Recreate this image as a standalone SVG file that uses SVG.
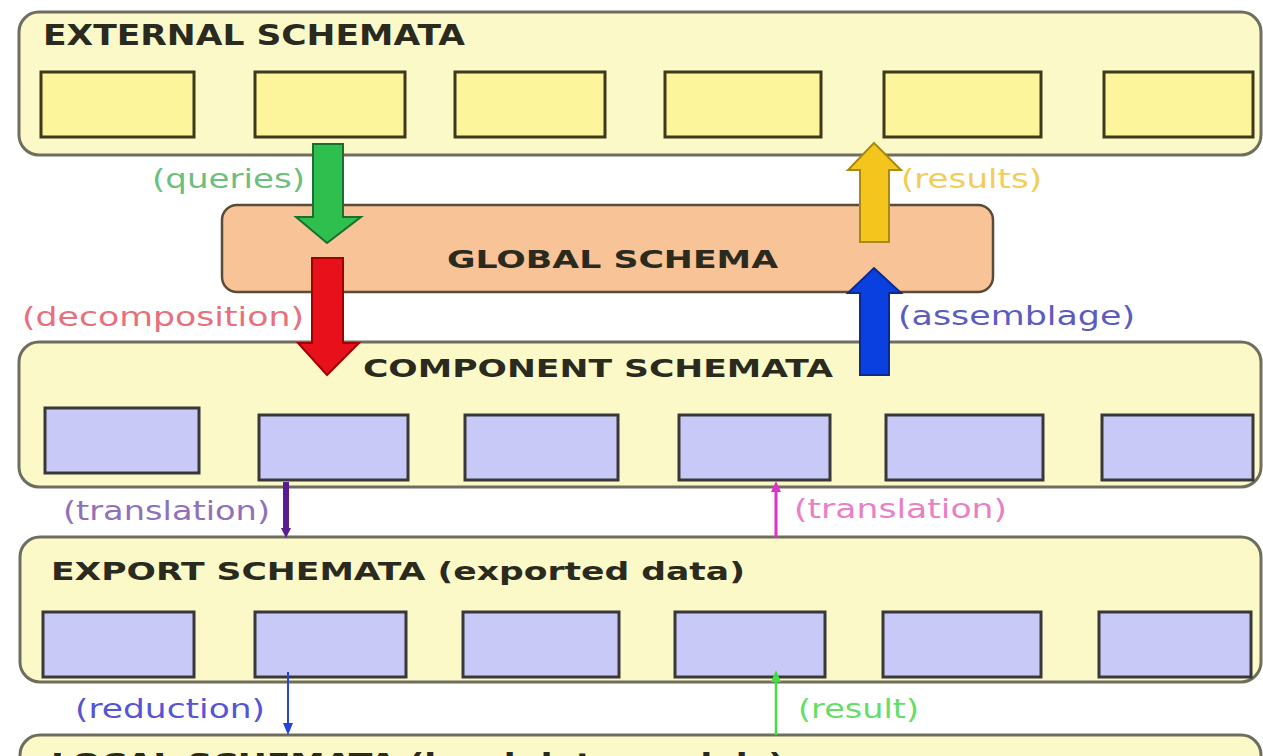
<svg xmlns="http://www.w3.org/2000/svg" width="1263" height="756" viewBox="0 0 1263 756">
<defs>
<style>
.panel{fill:#fcf9c8;stroke:#6e6e60;stroke-width:3}
.ybox{fill:#fdf59c;stroke:#3d3a1c;stroke-width:3}
.lbox{fill:#c9c9f7;stroke:#383838;stroke-width:3}
.head{font-family:"DejaVu Sans","Verdana",sans-serif;font-weight:bold;fill:#2a2a1e}
.lbl{font-family:"DejaVu Sans","Verdana",sans-serif;font-size:26px}
</style>
</defs>
<rect width="1263" height="756" fill="#ffffff"/>

<g id="external">
<rect class="panel" x="19" y="12" width="1242" height="143" rx="20"/>
<text class="head" x="43" y="45" font-size="28" textLength="422" lengthAdjust="spacingAndGlyphs">EXTERNAL SCHEMATA</text>
<rect class="ybox" x="41" y="72" width="153" height="65"/>
<rect class="ybox" x="255" y="72" width="150" height="65"/>
<rect class="ybox" x="455" y="72" width="150" height="65"/>
<rect class="ybox" x="665" y="72" width="156" height="65"/>
<rect class="ybox" x="884" y="72" width="157" height="65"/>
<rect class="ybox" x="1104" y="72" width="149" height="65"/>
</g>

<g id="global">
<rect x="222" y="205" width="771" height="87" rx="15" fill="#f8c396" stroke="#5a4a3a" stroke-width="2.5"/>
<text class="head" x="447" y="268" font-size="24" textLength="331" lengthAdjust="spacingAndGlyphs">GLOBAL SCHEMA</text>
</g>

<g id="component">
<rect class="panel" x="19" y="342" width="1242" height="145" rx="20"/>
<text class="head" x="363" y="377" font-size="25" textLength="470" lengthAdjust="spacingAndGlyphs">COMPONENT SCHEMATA</text>
<rect class="lbox" x="45" y="408" width="154" height="65"/>
<rect class="lbox" x="259" y="415" width="149" height="65"/>
<rect class="lbox" x="465" y="415" width="153" height="65"/>
<rect class="lbox" x="679" y="415" width="151" height="65"/>
<rect class="lbox" x="886" y="415" width="157" height="65"/>
<rect class="lbox" x="1102" y="415" width="151" height="65"/>
</g>

<g id="export">
<rect class="panel" x="20" y="537" width="1241" height="145" rx="20"/>
<text class="head" x="51" y="580" font-size="25" textLength="694" lengthAdjust="spacingAndGlyphs">EXPORT SCHEMATA (exported data)</text>
<rect class="lbox" x="43" y="612" width="151" height="65"/>
<rect class="lbox" x="255" y="612" width="151" height="65"/>
<rect class="lbox" x="463" y="612" width="156" height="65"/>
<rect class="lbox" x="675" y="612" width="150" height="65"/>
<rect class="lbox" x="883" y="612" width="158" height="65"/>
<rect class="lbox" x="1099" y="612" width="152" height="65"/>
</g>

<g id="local">
<rect class="panel" x="20" y="735" width="1241" height="100" rx="20"/>
<text class="head" x="51" y="771" font-size="25" textLength="733" lengthAdjust="spacingAndGlyphs">LOCAL SCHEMATA (local data models)</text>
</g>

<g id="connectors">
<path d="M313 144 H343 V217 H361 L327 243 L296 217 H313 Z" fill="#2fbf4f" stroke="#1b6e2e" stroke-width="2"/>
<text class="lbl" x="152" y="188" fill="#6cbf7c" textLength="153" lengthAdjust="spacingAndGlyphs">(queries)</text>

<path d="M312 258 H343 V343 H359 L327 375 L298 343 H312 Z" fill="#e8101a" stroke="#a00000" stroke-width="2"/>
<text class="lbl" x="22" y="326" fill="#e8707a" textLength="282" lengthAdjust="spacingAndGlyphs">(decomposition)</text>

<path d="M860 242 H889 V170 H901 L874 143 L848 170 H860 Z" fill="#f4c51c" stroke="#a88a10" stroke-width="2"/>
<text class="lbl" x="901" y="188" fill="#f2cd5a" textLength="141" lengthAdjust="spacingAndGlyphs">(results)</text>

<path d="M860 375 H889 V293 H901 L874 268 L848 293 H860 Z" fill="#0a3fe0" stroke="#0a2a90" stroke-width="2"/>
<text class="lbl" x="898" y="325" fill="#5c5cc0" textLength="237" lengthAdjust="spacingAndGlyphs">(assemblage)</text>

<path d="M286 482 V530" stroke="#5a1a90" stroke-width="6" fill="none"/>
<path d="M281 528 H291 L286 538 Z" fill="#5a1a90"/>
<text class="lbl" x="63" y="520" fill="#9070b8" textLength="207" lengthAdjust="spacingAndGlyphs">(translation)</text>

<path d="M776 537 V490" stroke="#e030c8" stroke-width="3" fill="none"/>
<path d="M771 492 H781 L776 481 Z" fill="#e030c8"/>
<text class="lbl" x="794" y="518" fill="#e880c8" textLength="213" lengthAdjust="spacingAndGlyphs">(translation)</text>

<path d="M288 672 V726" stroke="#2244dd" stroke-width="2" fill="none"/>
<path d="M283 723 H293 L288 735 Z" fill="#2244dd"/>
<text class="lbl" x="75" y="718" fill="#5555d5" textLength="190" lengthAdjust="spacingAndGlyphs">(reduction)</text>

<path d="M776 735 V680" stroke="#44dd44" stroke-width="2.5" fill="none"/>
<path d="M771 682 H781 L776 670 Z" fill="#44dd44"/>
<text class="lbl" x="798" y="718" fill="#66dd66" textLength="121" lengthAdjust="spacingAndGlyphs">(result)</text>
</g>
</svg>
